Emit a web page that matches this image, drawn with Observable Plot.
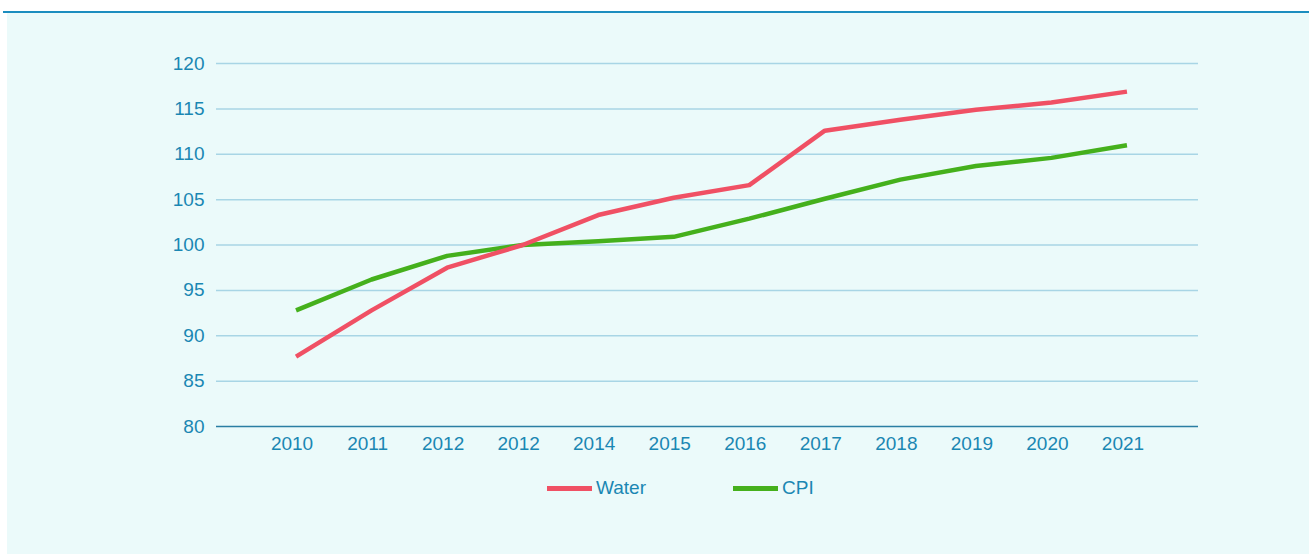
<!DOCTYPE html>
<html><head><meta charset="utf-8">
<script src="https://cdn.jsdelivr.net/npm/d3@7"></script>
<script src="https://cdn.jsdelivr.net/npm/@observablehq/plot@0.6"></script>
<style>
body{margin:0;background:#fff;font-family:"Liberation Sans",Arial,sans-serif;}
#topline{position:absolute;left:3px;top:11px;width:1306px;height:2px;background:#1b8dbf;}
#panel{position:absolute;left:7px;top:13px;width:1302px;height:541px;background:#ebfafa;}
#chart{position:absolute;left:0;top:0;}
.leg{position:absolute;top:464px;display:flex;align-items:center;font-size:19px;color:#1a87b3;}
.sw{width:45px;height:5px;margin-right:4px;}
</style></head>
<body>
<div id="topline"></div>
<div id="panel"><div id="chart"></div>
<div class="leg" style="left:540px"><span class="sw" style="background:#f05064"></span>Water</div>
<div class="leg" style="left:726px"><span class="sw" style="background:#45b01c"></span>CPI</div>
</div>
<script>
const years = ["2010","2011","2012","2012","2014","2015","2016","2017","2018","2019","2020","2021"];
const water = [87.7, 92.8, 97.5, 100.0, 103.3, 105.2, 106.6, 112.6, 113.8, 114.9, 115.7, 116.9];
const cpi   = [92.8, 96.2, 98.8, 100.0, 100.4, 100.9, 102.9, 105.1, 107.2, 108.7, 109.6, 111.0];
const yTicks = [80, 85, 90, 95, 100, 105, 110, 115, 120];

const waterRows = years.map((y, i) => ({i, value: water[i]}));
const cpiRows = years.map((y, i) => ({i, value: cpi[i]}));

const chart = Plot.plot({
  width: 1302,
  height: 455,
  marginLeft: 209,
  marginRight: 111,
  marginTop: 50,
  marginBottom: 42,
  style: {background: "transparent", color: "#1a87b3", fontSize: "19px", fontFamily: "'Liberation Sans', Arial, sans-serif"},
  x: {type: "point", domain: d3.range(years.length), padding: 1, round: false},
  y: {domain: [80, 120]},
  marks: [
    Plot.ruleY(yTicks.slice(1), {stroke: "#a8d5e5", strokeWidth: 1.5}),
    Plot.ruleY([80], {stroke: "#2a7ea3", strokeWidth: 1.5}),
    Plot.axisY(yTicks, {tickSize: 0, tickPadding: 12, label: null}),
    Plot.axisX({tickSize: 0, tickPadding: 10, tickFormat: i => years[i], label: null}),
    Plot.line(cpiRows, {x: "i", y: "value", dx: 4, stroke: "#45b01c", strokeWidth: 4.5, strokeLinejoin: "round", strokeLinecap: "butt"}),
    Plot.line(waterRows, {x: "i", y: "value", dx: 4, stroke: "#f05064", strokeWidth: 4.5, strokeLinejoin: "round", strokeLinecap: "butt"})
  ]
});
document.getElementById("chart").appendChild(chart);
</script>
</body></html>
